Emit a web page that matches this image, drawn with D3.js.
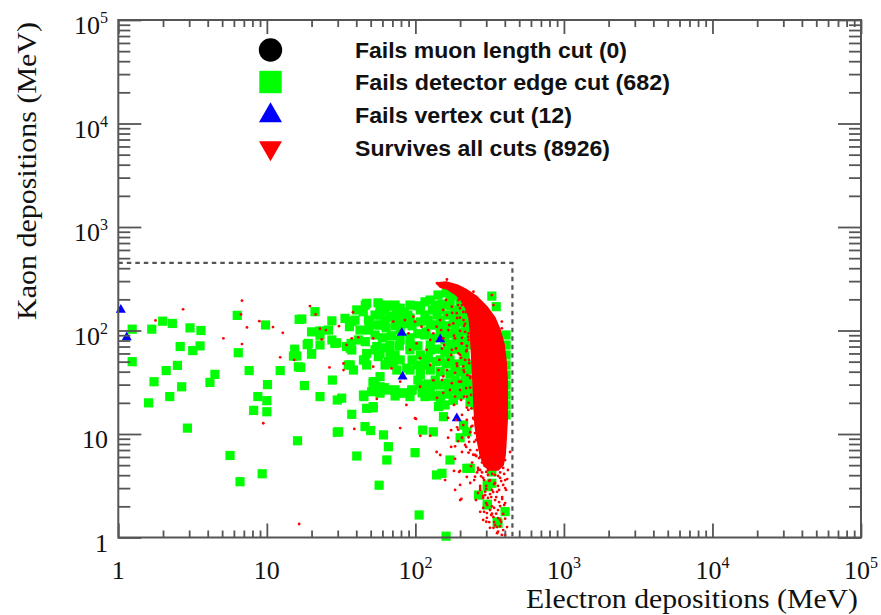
<!DOCTYPE html>
<html>
<head>
<meta charset="utf-8">
<script src="https://cdn.jsdelivr.net/npm/d3@7"></script>
<style>
  body { margin: 0; background: #fff; }
  svg { display: block; }
</style>
</head>
<body>
<div id="chart"></div>
<script>
// axis tick labels (log axes, decades)
var xTickValues = [1, 10, 100, 1000, 10000, 100000];
var yTickValues = [1, 10, 100, 1000, 10000, 100000];
var tickBase = ["1", "10", "10", "10", "10", "10"];
var tickExp = ["", "", "2", "3", "4", "5"];

var xTitle = "Electron depositions (MeV)";
var yTitle = "Kaon depositions (MeV)";

var legendLabels = [
  "Fails muon length cut (0)",
  "Fails detector edge cut (682)",
  "Fails vertex cut (12)",
  "Survives all cuts (8926)"
];

// signal box limit (MeV)
var boxLimit = [450, 450];

// [electron MeV, kaon MeV]
var muonLengthCut = [];

var edgeCut = [
  [1.24,103],[1.24,50],[1.68,103],[1.99,123],[2.31,117],[3.04,106],[3.6,100],[2.61,70],[3.55,71],[3.17,64],
  [2.1,41],[2.5,46],[1.74,32],[2.22,23],[1.6,20],[2.67,28.6],[2.92,11.4],[4.14,31.5],[4.47,37.7],[6.32,140],
  [6.42,61],[7.6,41],[9.8,113],[8.7,23],[10.1,30],[10,21],[10,16.4],[8.15,16.9],[5.65,6.2],[6.6,3.46],
  [9.3,4.13],[12.3,41],[16.5,128],[16.3,44.6],[15.9,56.7],[15.4,66],[16.1,8.6],
  [21.1,152],[17.2,129],[27.4,124],[20,97],[22.8,99],[26,101],[22.8,90],[27.4,81],[29.5,76],[18.7,73],
  [22.8,72.5],[15.1,56.6],[20,59],[16.9,44],[17.9,29.4],[27.6,33.2],[19,75],[20,60],[28.7,75],[34.4,70],
  [37.3,64.8],[35.4,46.4],[44.7,51.9],[47,46.4],[22.8,23],[29.8,21.3],[31.9,22.2],[45,23],[37.3,15.5],
  [29.8,10.4],[47,17.7],[52,17.9],[45.8,11.8],[50,10.8],[40.3,6.13],[57,3.2],[61,9.8],[106,1.65],[161,1.03],
  [30.4,10.5],[44.7,23.8],[52,18.4],
  [40.3,158],[47,183],[44.6,152],[33.6,131],[39.2,126],[49.2,121],[57.8,146],[36,109],[42.4,101],[48.3,101],
  [36.9,75],[41.3,81],[36.4,67.5],[47,60],[45.8,52],[55,70],[56.3,56],[36.4,46.4],[38.3,41.5],[52,30.9],
  [57.8,35.8],[50.8,25.6],[57.8,24.8],[37.3,122],[46,176],[48.3,126],[57.8,176],[64,170],[69.4,136],[79,164],
  [89,141],[46,78],[57.8,60],[67.5,60],[71,48.3],
  [52,32],[57.8,28.6],[64,26.6],[73,26.6],[83,24.8],[94.5,26.6],[75,41.5],[87.5,43.2],[102,46.4],[116,51.9],
  [65.8,7.54],[64.2,5.61],[99.5,6.6],[112,10.9],[132,10.5],[139,4.02],[151,4.17],[222,4.66],[234,4.66],
  [171,5.61],[200,9.2],[143,18.4],[154.5,14.7],[211,12.2],[222,10.5],
  [158.5,19.1],[180,21.3],[234,20.4],[318,6.27],[344,5.4],[327,4.3],[305,3.22],[266,2.57],[305,2.06],
  [360,1.37],[402,1.78],[305,3.1],[327,3.34],[305,2.1],[355,1.42],[73,23.3],[92,23],[116,23],
  [56,185],[64.5,176],[74,165],[84,151],[57.8,141],[67.5,135],[78,126],[92,132],[104,173],[116,189],
  [130,158],[142,220],[161,231],[182,216],[200,189],[151,180],[171,173],[140,141],[164,141],[188,148],[213,158],
  [55,113],[63.5,106],[73,111],[84,116],[95,111],[108,121],[122,126],[138,113],[158.5,111],[180,116],
  [203,121],[223,126],[60,85],[69,89],[92,85],[104,93],[118,97],[134,85],[151,89],[171,93],[194,95],
  [216,99],[126,72.4],[164,74],[188,77.5],[213,79],
  [61,68],[78,71],[92,65],[104,71],[140,66],[158,62],[185,66],[210,65],[65.5,50],[79,52],[95,52],
  [122,54],[138,50],[161,47.5],[185,47.5],[210,50],[108,43.2],[147,40],[171,38],[200,40],[227,41.5],
  [53.5,32],[62,28],[72,26.6],[83,25],[95,26.6],[104,33.2],[122,30.4],[140,29.7],[161,31],[185,29.7],
  [210,31],[230,33.2],[111,25],[130,23.2],[166,24.3],[194,25],[219,26],[147,20.4],[180,21.3],[234,20.4],
  [240,22],[255,19],[245,25],
  [125.6,197],[171,197],[216,197],[73,176],[92,176],[136,176],[62.5,158],[108,158],[147,158],[185,158],
  [53.5,141],[79,141],[116,141],[216,141],[62.5,126],[92,126],[147,126],[185,126],[57.8,113],[126,113],
  [234,113],[79,101],[147,101],[185,101],[53.5,90.5],[116,90.5],[234,90.5],[79,81],[158,81],[200,81],
  [67.5,72.4],[92,72.4],[234,72.4],[53.5,65],[126,65],[171,65],[73,58],[108,58],[216,58],[147,52],
  [171,52],[62.5,46.4],[116,46.4],[234,46.4],[92,41.5],[126,41.5],[185,41.5],[108,37.2],[216,37.2],
  [136,33.2],[185,33.2],[108,29.7],[158,29.7],[234,29.7],[126,26.6],[171,26.6],[147,23.8],[200,23.8],
  [408,90.5],[408,72.4],[408,58],[408,46.4],[408,37.2],[408,29.7],[408,23.8],[408,19.1],[408,15.3],
  [327,215],[350,170]
];

var vertexCut = [[1.04,158],[1.14,86],[81,95],[147,82],[82,35.8],[190,14.2]];

// outline of the solid band of surviving events
var survivorCore = [
  [138,288],[161,295],[191,275],[223,246],[261,211],[304,169],[344,132],[372,101],[396,72.4],
  [408,49.7],[415,33.2],[415,21.3],[415,13.7],[408,8.75],[402,6.27],[390,5.02],[361,4.49],
  [318,4.49],[290,4.9],[273,6.27],
  [261,8.75],[252,12.2],[248,19.1],[245,29.7],[241,46.4],[237,72.4],[234,101],
  [230,132],[219,164],[203,197],[185,225],[164,251],[147,262]
];

// scattered surviving events outside the solid band
var survivors = [
  [1.78,125],[2.73,160],[6.8,194],[6.7,143],[7.35,107],[5.1,84],[6.8,74],[8.9,123],[11.0,108],[12.8,95],
  [12.3,55],[9.46,12.7],[16.5,1.35],[15.3,52],[19.5,172],[21.3,143],[30.6,110],[26.4,44],[32.8,41.5],
  [37.3,84],[41.3,86],[52,84],[52,44.7],[38,150],[23.4,82],[34.4,72.5],[32.8,48],[38.8,11.2],[55,21.8],
  [22.8,104],[25,101],
  [163,311],[141,286],[246,237],[327,220],[336,176],[382,122],[382,105],[97,136],[99.5,122],[110,109],
  [122,101],[132,94],[126,81],[154,84],[167,101],[180,117],[190,147],[200,164],[211,126],[216,97],
  [205,75],[222,65],[176,65],[167,52],[190,48],[211,41.5],[234,36],[163,41.5],[154,36],[176,31],
  [200,26.6],[222,23],[71,122],[85,126],[107.6,54],[126,46.4],[143,41.5],[69,43],[79,32],[195,197],
  [216,183],[176,170],[163,141],[147,126],[139,109],[228,81],[185,84],[151,67],[195,60],[216,52],
  [119,65],[102,75],[90,94],[92,65],[132,33],[107.6,28.6],[154,25],[185,23],
  [206,176],[219,151],[200,133],[213,111],[228,94],[206,85],[222,71],[200,58],[230,52],[210,45],
  [224,37],[203,32],[234,28],[213,23],[228,20],[238,17.7],[222,13.7],[242,12],[252,10.2],[230,8.4],
  [260,7],[245,6.3],[273,6.0],[194,11],[185,7.6],[206,9.2],
  [194,176],[210,151],[191,132],[216,116],[200,99],[227,87],[206,75],[188,67],[220,63],[203,54.5],
  [230,48.3],[191,45.4],[213,39.8],[234,34.8],[197,32],[220,27.8],[237,23.8],[203,21.3],[227,17.1],
  [245,14.3],[210,12.2],[234,10.4],[249,8.4],[220,7.5],[257,6.13],[237,4.9],[265,4.49],[249,3.59],
  [273,2.88],[295,2.57],[324,2.46],[177,148],[169,113],[182,89],[174,58],[185,39],[171,26.6],[182,19.1],
  [166,14.3],[191,11.6],[161,197],[154,158],[149,101],[156,72.4],[145,52],[151,33.2],[140,22.3],
  [216,189],[234,151],[241,110],[245,81],[249,57],[252,41.5],[257,29],[261,21.3],[265,15.3],[269,10.4],
  [273,7.5],
  [216,7.83],[234,7.0],[252,6.27],[241,5.3],[264,4.7],[281,4.25],[308,4.49],[344,4.02],[372,3.76],
  [402,3.59],[360,3.15],[328,2.88],[295,2.76],[273,3.0],[308,2.41],[344,2.3],[384,2.46],[408,2.88],
  [396,2.06],[360,1.84],[328,1.7],[303,1.55],[339,1.41],[372,1.29],[390,1.18],[355,1.1],[402,1.06],
  [318,1.24],[286,1.93],[256,2.3],[234,3.36],[222,3.85],[200,4.4],[185,5.75],[206,6.7],[194,8.55],
  [174,7.5],[166,9.2],[256,8.75],[228,9.3],[290,3.59],[420,4.49],[434,6.7],[372,6.27],[339,7.0],
  [313,5.85],[268,5.85],[290,7.83],[188,13.7],[174,10.9],[206,15.3],[238,11.8],[248,13.9],[222,18],
  [200,3.22],[185,2.88],[158.5,3.59],[139,6.7],[126,9.6],[108,9.6],[99.5,14.2],[79,11.4],[87,19.1],
  [101,14],[147,6.27],[182,4.4],[197,4.3],[204,2.36],[228,6.6],[252,3.87],[273,1.77],[300,1.42],
  [335,1.24],[360,1.14],[382,1.06],[200,2.3],[264,2.69],[286,2.41],[303,1.72],[335,1.58],[372,1.48],
  [414,1.26],[355,1.26],[318,1.84],[286,1.48],
  [295,5.0],[328,4.7],[360,5.2],[390,4.7],[277,3.9],[318,3.59],[355,2.76],[390,3.22],[300,3.15],
  [339,3.28],[372,4.25],[308,4.02],[402,5.6],[281,5.3],[260,4.25],[366,2.2],[328,2.0],[300,2.15],
  [402,1.52],[350,1.7],
  [273,4.49],[300,4.3],[329,4.11],[361,3.93],[396,4.11],[286,3.76],[314,3.51],[344,3.37],[378,3.51],
  [415,3.67],[273,3.15],[300,2.95],[334,2.75],[366,2.88],[402,3.0],[286,2.52],[318,2.63],[350,2.46],
  [384,2.35],[304,2.06],[339,1.93],[372,2.01],[402,2.15],[324,1.65],[361,1.54],[390,1.69],[344,1.32],
  [378,1.41],[314,1.41],[290,1.77]
];

var width = 881, height = 615;
var margin = {top: 20, right: 20, bottom: 77.5, left: 118.3};
var axisColor = "#555";
var serif = "'Liberation Serif','Times New Roman',serif";

var svg = d3.select("#chart").append("svg")
  .attr("width", width)
  .attr("height", height);

var x = d3.scaleLog().domain([1, 1e5]).range([margin.left, width - margin.right]);
var y = d3.scaleLog().domain([1, 1e5]).range([height - margin.bottom, margin.top]);

var plot = svg.append("g");

// dashed selection box
plot.append("path")
  .attr("d", d3.line()([[x(1), y(boxLimit[1])], [x(boxLimit[0]), y(boxLimit[1])], [x(boxLimit[0]), y(1)]]))
  .attr("fill", "none")
  .attr("stroke", "#555")
  .attr("stroke-width", 2.2)
  .attr("stroke-dasharray", "4.5,4");

plot.selectAll("rect.edge").data(edgeCut).enter().append("rect")
  .attr("class", "edge")
  .attr("x", function (d) { return x(d[0]) - 4.6; })
  .attr("y", function (d) { return y(d[1]) - 4.6; })
  .attr("width", 9.2)
  .attr("height", 9.2)
  .attr("fill", "#00ff00");

var smallTri = d3.symbol().type(d3.symbolTriangle).size(44);
plot.selectAll("path.vertex").data(vertexCut).enter().append("path")
  .attr("class", "vertex")
  .attr("d", smallTri)
  .attr("transform", function (d) { return "translate(" + x(d[0]) + "," + y(d[1]) + ")"; })
  .attr("fill", "#0000ff");

plot.append("path")
  .datum(survivorCore)
  .attr("d", d3.line()
    .x(function (d) { return x(d[0]); })
    .y(function (d) { return y(d[1]); })
    .curve(d3.curveLinearClosed))
  .attr("fill", "#ff0000")
  .attr("stroke", "#ff0000")
  .attr("stroke-width", 1.5)
  .attr("stroke-linejoin", "round");

plot.selectAll("circle.surv").data(survivors).enter().append("circle")
  .attr("class", "surv")
  .attr("cx", function (d) { return x(d[0]); })
  .attr("cy", function (d) { return y(d[1]); })
  .attr("r", 1.4)
  .attr("fill", "#ff0000");

// ticks on all four sides, pointing inward
var majors = xTickValues, minors = [];
xTickValues.slice(0, -1).forEach(function (d) {
  for (var k = 2; k <= 9; k++) minors.push(k * d);
});

function ticks(axis, vals, size, tx, ty) {
  var g = svg.append("g")
    .attr("transform", "translate(" + tx + "," + ty + ")")
    .call(axis.tickValues(vals).tickSize(size).tickSizeOuter(0).tickFormat(""));
  g.select(".domain").remove();
  g.selectAll("line").attr("stroke", axisColor).attr("stroke-width", 1.8);
}
var x0 = x.range()[0], x1 = x.range()[1], y0 = y.range()[0], y1 = y.range()[1];
ticks(d3.axisBottom(x), minors, -7, 0, y0);
ticks(d3.axisBottom(x), majors, -14, 0, y0);
ticks(d3.axisTop(x), minors, -7, 0, y1);
ticks(d3.axisTop(x), majors, -14, 0, y1);
ticks(d3.axisLeft(y), minors, -12, x0, 0);
ticks(d3.axisLeft(y), majors, -23, x0, 0);
ticks(d3.axisRight(y), minors, -12, x1, 0);
ticks(d3.axisRight(y), majors, -23, x1, 0);

svg.append("rect")
  .attr("x", x0).attr("y", y1)
  .attr("width", x1 - x0).attr("height", y0 - y1)
  .attr("fill", "none")
  .attr("stroke", axisColor)
  .attr("stroke-width", 2);

// tick labels
function label(sel, i) {
  sel.append("tspan").text(tickBase[i]);
  if (tickExp[i]) sel.append("tspan").attr("dy", -11).attr("font-size", 16).text(tickExp[i]);
}
xTickValues.forEach(function (v, i) {
  var t = svg.append("text")
    .attr("x", x(v)).attr("y", 579)
    .attr("text-anchor", "middle")
    .attr("font-family", serif).attr("font-size", 26).attr("fill", "#111");
  label(t, i);
});
yTickValues.forEach(function (v, i) {
  var t = svg.append("text")
    .attr("x", 108).attr("y", y(v) + 14)
    .attr("text-anchor", "end")
    .attr("font-family", serif).attr("font-size", 26).attr("fill", "#111");
  label(t, i);
});

svg.append("text")
  .attr("x", 858).attr("y", 608)
  .attr("text-anchor", "end")
  .attr("font-family", serif).attr("font-size", 27).attr("fill", "#111")
  .attr("textLength", 332).attr("lengthAdjust", "spacingAndGlyphs")
  .text(xTitle);

svg.append("text")
  .attr("transform", "translate(35.5,320) rotate(-90)")
  .attr("text-anchor", "start")
  .attr("font-family", serif).attr("font-size", 27).attr("fill", "#111")
  .attr("textLength", 298).attr("lengthAdjust", "spacingAndGlyphs")
  .text(yTitle);

// legend
var legendY = [50, 82, 115.5, 148];
var legendLen = [272, 315, 217, 255];
var lx = 270.5;
var leg = svg.append("g");
leg.append("circle").attr("cx", lx).attr("cy", legendY[0]).attr("r", 11.7).attr("fill", "#000");
leg.append("rect").attr("x", lx - 11.2).attr("y", legendY[1] - 11.2).attr("width", 22.4).attr("height", 22.4).attr("fill", "#00ff00");
var bigTri = d3.symbol().type(d3.symbolTriangle).size(230);
leg.append("path").attr("d", bigTri).attr("transform", "translate(" + lx + "," + legendY[2] + ")").attr("fill", "#0000ff");
leg.append("path").attr("d", bigTri).attr("transform", "translate(" + lx + "," + legendY[3] + ") rotate(180)").attr("fill", "#ff0000");

leg.selectAll("text").data(legendLabels).enter().append("text")
  .attr("x", 355)
  .attr("y", function (d, i) { return legendY[i] + 7.5; })
  .attr("font-family", "'Liberation Sans',Arial,sans-serif")
  .attr("font-weight", "bold")
  .attr("font-size", 22)
  .attr("fill", "#111")
  .attr("textLength", function (d, i) { return legendLen[i]; })
  .attr("lengthAdjust", "spacingAndGlyphs")
  .text(function (d) { return d; });
</script>
</body>
</html>
